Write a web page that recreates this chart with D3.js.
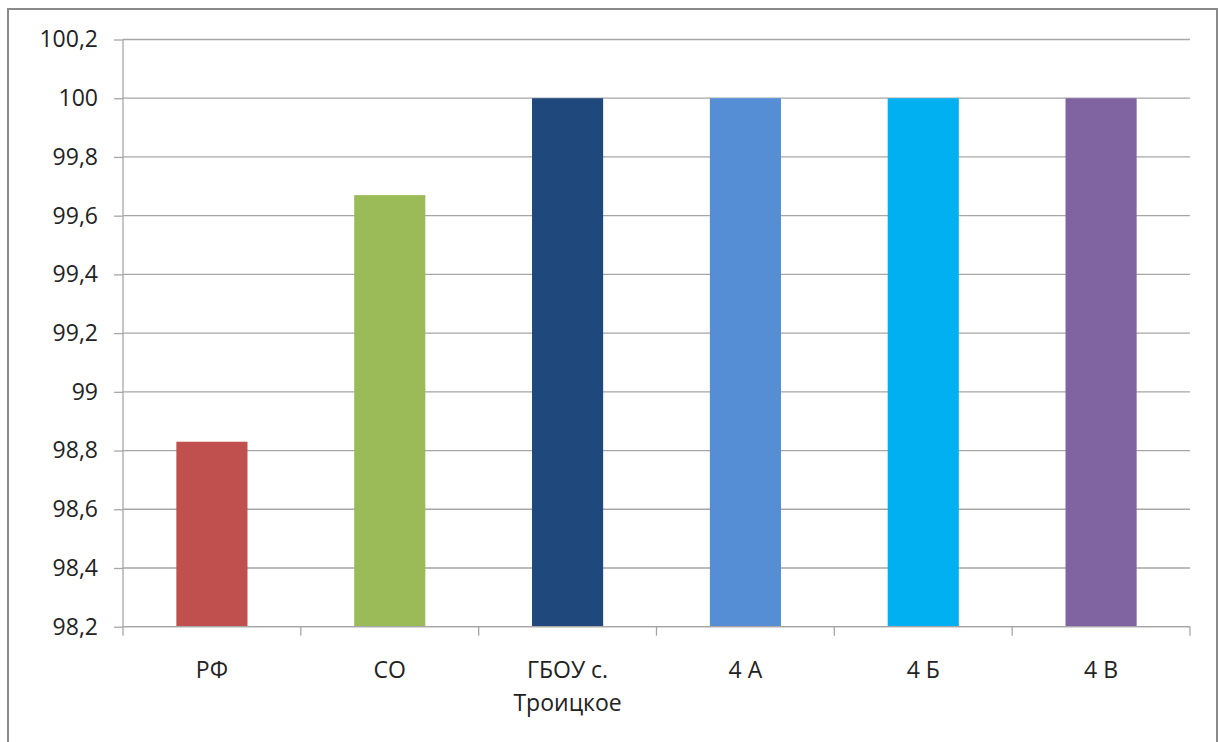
<!DOCTYPE html>
<html>
<head>
<meta charset="utf-8">
<script src="https://cdn.jsdelivr.net/npm/d3@7/dist/d3.min.js"></script>
<style>
  body { margin: 0; background: #fff; }
  text { font-family: "Open Sans", "Noto Sans", sans-serif; fill: #222; }
</style>
</head>
<body>
<svg id="chart" width="1218" height="742"></svg>
<script>
// данные с картинки
var categories = ["РФ", "СО", "ГБОУ с.|Троицкое", "4 А", "4 Б", "4 В"];
var values = [98.83, 99.67, 100, 100, 100, 100];
var colors = ["#c0504d", "#9bbb59", "#1f497d", "#558ed5", "#00b0f0", "#8064a2"];
var yTicks = [98.2, 98.4, 98.6, 98.8, 99, 99.2, 99.4, 99.6, 99.8, 100, 100.2];

var svg = d3.select("#chart");

// рамка диаграммы
svg.append("rect")
  .attr("x", 8).attr("y", 9)
  .attr("width", 1209).attr("height", 760)
  .attr("fill", "#fff")
  .attr("stroke", "#8a8a8a")
  .attr("stroke-width", 2);

var plotLeft = 123, plotRight = 1190, plotTop = 39.5, plotBottom = 626.7;

var x = d3.scaleBand().domain(categories).range([plotLeft, plotRight]).paddingInner(0.6).paddingOuter(0.3);
var y = d3.scaleLinear().domain([98.2, 100.2]).range([plotBottom, plotTop]);

// сетка
svg.append("g").selectAll("line").data(yTicks).enter().append("line")
  .attr("x1", plotLeft).attr("x2", plotRight)
  .attr("y1", function(d) { return y(d); })
  .attr("y2", function(d) { return y(d); })
  .attr("stroke", "#a6a6a6").attr("stroke-width", 1.3);

// столбики
svg.append("g").selectAll("rect").data(values).enter().append("rect")
  .attr("x", function(d, i) { return x(categories[i]); })
  .attr("width", x.bandwidth())
  .attr("y", function(d) { return y(d); })
  .attr("height", function(d) { return plotBottom - y(d); })
  .attr("fill", function(d, i) { return colors[i]; });

// ось Y
var yAxis = svg.append("g").attr("transform", "translate(" + plotLeft + ",0)")
  .call(d3.axisLeft(y).tickValues(yTicks).tickSize(9).tickPadding(16)
    .tickFormat(function(d) { return String(+d.toFixed(1)).replace(".", ","); }));
yAxis.select(".domain").attr("stroke", "#a6a6a6").attr("stroke-width", 1.3).attr("d", "M0," + plotTop + "V" + plotBottom);
yAxis.selectAll(".tick line").attr("stroke", "#a6a6a6").attr("stroke-width", 1.3);
yAxis.selectAll(".tick text").attr("font-size", 23).attr("fill", "#222")
  .attr("font-family", "'Open Sans', sans-serif");

// ось X
var step = (plotRight - plotLeft) / categories.length;
var xb = svg.append("g");
xb.append("line").attr("x1", plotLeft).attr("x2", plotRight).attr("y1", plotBottom).attr("y2", plotBottom)
  .attr("stroke", "#a6a6a6").attr("stroke-width", 1.3);
xb.selectAll("line.tk").data(d3.range(categories.length + 1)).enter().append("line")
  .attr("class", "tk")
  .attr("x1", function(i) { return plotLeft + i * step; })
  .attr("x2", function(i) { return plotLeft + i * step; })
  .attr("y1", plotBottom).attr("y2", plotBottom + 9)
  .attr("stroke", "#a6a6a6").attr("stroke-width", 1.3);

xb.selectAll("text").data(categories).enter().append("text")
  .attr("text-anchor", "middle")
  .attr("font-size", 23)
  .each(function(d) {
    var t = d3.select(this);
    var cx = x(d) + x.bandwidth() / 2;
    d.split("|").forEach(function(s, k) {
      t.append("tspan").attr("x", cx).attr("y", 678 + k * 32.5).text(s);
    });
  });
</script>
</body>
</html>
